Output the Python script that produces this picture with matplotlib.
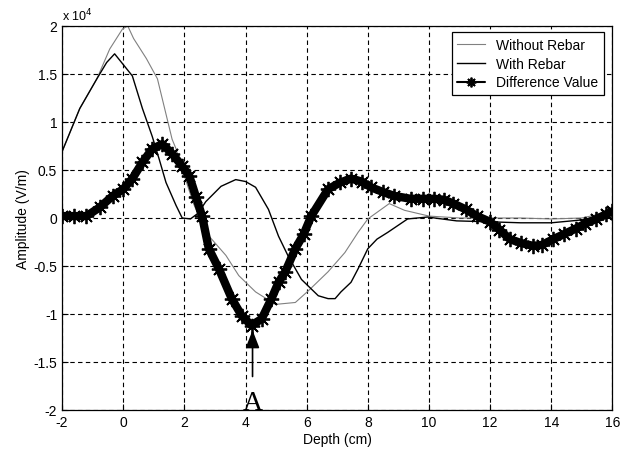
import numpy as np
import matplotlib
matplotlib.use("Agg")
import matplotlib.pyplot as plt

plt.rcParams['font.family'] = ['Liberation Sans', 'DejaVu Sans']
plt.rcParams['axes.unicode_minus'] = False

## DATA (amplitude in units of 1e4 V/m)
depth_without = [-2, -1.42, -0.86, -0.44, -0.02, 0.15, 0.34, 0.76, 1.12, 1.28, 1.44, 1.6, 1.73,
                 2.0, 2.3, 2.7, 3.36, 3.78, 4.33, 4.98, 5.63, 6.05, 6.7, 7.25, 7.68, 8.0, 8.7,
                 9.2, 10.0, 11.0, 12.0, 13.0, 14.0, 15.0, 16.0]
amp_without = [0.69, 1.14, 1.45, 1.76, 1.97, 2.0, 1.87, 1.66, 1.45, 1.24, 1.03, 0.82, 0.72,
               0.44, 0.15, -0.15, -0.39, -0.6, -0.77, -0.9, -0.88, -0.76, -0.56, -0.36, -0.15, -0.01, 0.15,
               0.08, 0.02, 0.0, 0.0, 0.0, -0.01, 0.0, 0.07]

depth_with = [-2, -1.42, -0.86, -0.54, -0.28, 0.3, 0.63, 0.95, 1.18, 1.4, 1.73, 1.93, 2.2, 2.45,
              2.7, 3.2, 3.68, 4.0, 4.33, 4.75, 5.08, 5.4, 5.83, 6.38, 6.7, 6.93, 7.12, 7.45, 7.68,
              8.0, 8.3, 8.65, 9.3, 9.95, 10.9, 12.0, 13.0, 14.0, 15.0, 16.0]
amp_with = [0.69, 1.14, 1.45, 1.62, 1.71, 1.48, 1.14, 0.85, 0.61, 0.37, 0.13, 0.0, -0.01, 0.05,
            0.17, 0.33, 0.40, 0.38, 0.32, 0.09, -0.19, -0.4, -0.64, -0.81, -0.84, -0.84, -0.77, -0.67, -0.53,
            -0.32, -0.22, -0.15, -0.01, 0.01, -0.03, -0.04, -0.05, -0.05, -0.02, 0.05]

depth_diff = [-2, -1.6, -1.2, -0.77, -0.34, 0, 0.3, 0.63, 0.95, 1.28, 1.6, 1.93, 2.16, 2.38, 2.58,
              2.8, 3.13, 3.55, 3.88, 4.2, 4.53, 4.85, 5.08, 5.3, 5.63, 5.9, 6.15, 6.7, 7.1, 7.45,
              7.8, 8.1, 8.5, 8.87, 9.4, 9.8, 10.17, 10.5, 10.8, 11.2, 11.57, 12.0, 12.3, 12.64,
              13.0, 13.4, 13.7, 14.07, 14.4, 14.8, 15.1, 15.47, 15.8, 16.0]
amp_diff = [0.02, 0.02, 0.02, 0.11, 0.23, 0.3, 0.41, 0.58, 0.72, 0.77, 0.67, 0.54, 0.44, 0.22, 0.02,
            -0.32, -0.53, -0.84, -1.02, -1.12, -1.05, -0.84, -0.67, -0.56, -0.32, -0.17, 0.02, 0.3, 0.37, 0.41,
            0.38, 0.32, 0.27, 0.23, 0.2, 0.2, 0.2, 0.19, 0.15, 0.09, 0.02, -0.04, -0.12, -0.22,
            -0.26, -0.29, -0.28, -0.22, -0.17, -0.11, -0.06, -0.01, 0.04, 0.07]

xticks = [-2, 0, 2, 4, 6, 8, 10, 12, 14, 16]
yticks = [-2, -1.5, -1, -0.5, 0, 0.5, 1, 1.5, 2]
ytick_labels = ["-2", "-1.5", "-1", "-0.5", "0", "0.5", "1", "1.5", "2"]

# point A (minimum of the difference)
a_depth = 4.23

#%%
fig = plt.figure(figsize=(6.22, 4.56), dpi=100)
ax = fig.add_axes([0.0997, 0.0987, 0.885, 0.8421])

ax.plot(depth_without, amp_without, color="0.5", lw=0.8, label="Without Rebar")
ax.plot(depth_with, amp_with, color="k", lw=1.0, label="With Rebar")
ax.plot(depth_diff, amp_diff, color="k", lw=6, solid_capstyle="round", solid_joinstyle="round",
        marker=(8, 2, 0), markersize=11, markeredgewidth=1.3, label="Difference Value")

ax.annotate("", xy=(a_depth, -1.14), xytext=(a_depth, -1.68),
            arrowprops=dict(arrowstyle="-|>,head_length=0.9,head_width=0.35",
                            color="k", lw=1.2, mutation_scale=12))
ax.text(a_depth, -1.985, "A", ha="center", va="baseline", fontsize=20,
        family="Liberation Serif")

ax.set_xlim(-2, 16)
ax.set_ylim(-2, 2)
ax.set_xticks(xticks)
ax.set_yticks(yticks)
ax.set_yticklabels(ytick_labels)
ax.tick_params(direction="in", length=4, labelsize=10, colors="k")
ax.grid(True, color="k", linestyle=(0, (4, 3)), lw=0.8)
for s in ax.spines.values():
    s.set_color("k")
    s.set_linewidth(0.9)

ax.text(0.0, 1.008, r"x 10$^4$", transform=ax.transAxes, ha="left", va="bottom", fontsize=9)
ax.set_xlabel("Depth (cm)", fontsize=10, labelpad=2)
ax.set_ylabel("Amplitude (V/m)", fontsize=10, labelpad=2)

leg = ax.legend(loc="upper right", bbox_to_anchor=(0.984, 0.984), borderaxespad=0,
                fontsize=10, fancybox=False, framealpha=1, edgecolor="k",
                handlelength=2, labelspacing=0.35, borderpad=0.4)
leg.get_frame().set_linewidth(0.9)
h = leg.legend_handles[2]
h.set_linewidth(1.5)
h.set_markersize(7)

fig.savefig("out.png", dpi=100)
